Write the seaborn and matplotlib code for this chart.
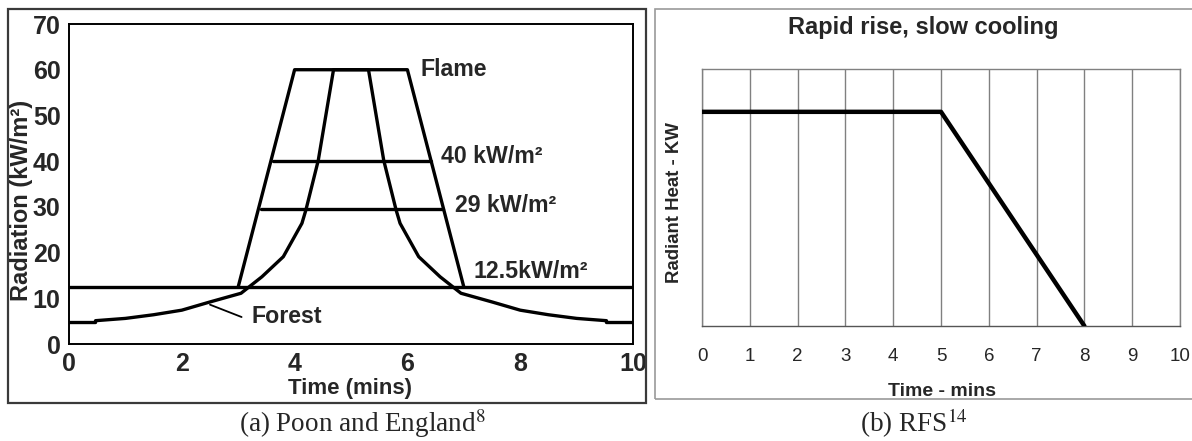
import matplotlib
matplotlib.use("Agg")
import matplotlib.pyplot as plt
import seaborn as sns
import pandas as pd
from matplotlib.patches import Rectangle

# ---------------- data ----------------
# (a) Poon and England
flame_x = [3.0, 4.0, 6.0, 7.0]
flame_y = [12.5, 60.0, 60.0, 12.5]
forest_x = [0.0, 0.47, 0.47, 1.0, 1.5, 2.0, 2.5, 3.05, 3.42, 3.8, 4.13, 4.2, 4.42, 4.57, 4.69,
            5.31, 5.43, 5.58, 5.8, 5.87, 6.2, 6.58, 6.95, 7.5, 8.0, 8.5, 9.0, 9.53, 9.53, 10.0]
forest_y = [4.7, 4.7, 5.1, 5.6, 6.4, 7.4, 9.2, 11.1, 14.7, 19.1, 26.4, 29.3, 40.2, 51.2, 60.0,
            60.0, 51.2, 40.2, 29.3, 26.4, 19.1, 14.7, 11.1, 9.2, 7.4, 6.4, 5.6, 5.1, 4.7, 4.7]
threshold_levels = [12.5, 29.5, 40.0]
threshold_x0 = [0.0, 3.41, 3.62]
threshold_x1 = [10.0, 6.64, 6.42]
threshold_labels = ["12.5kW/m²", "29 kW/m²", "40 kW/m²"]
label_pos_x = [7.18, 6.84, 6.6]
label_pos_y = [15.9, 30.4, 41.0]
left_xticks = [0, 2, 4, 6, 8, 10]
left_yticks = [0, 10, 20, 30, 40, 50, 60, 70]

# (b) RFS
rfs_x = [0, 5, 8]
rfs_y = [50, 50, 0]
right_xticks = list(range(0, 11))

# ---------------- figure ----------------
sns.set_theme(style="white")
plt.rcParams["font.family"] = ["Liberation Sans", "DejaVu Sans"]
plt.rcParams["mathtext.fontset"] = "stix"

W, H = 1192, 441
fig = plt.figure(figsize=(W / 100, H / 100), dpi=100)
fig.patch.set_facecolor("white")

# outer frames
fig.add_artist(Rectangle((8 / W, 1 - 403 / H), (646 - 8) / W, (403 - 9) / H,
                         transform=fig.transFigure, fill=False, edgecolor="#3a3a3a", lw=1.6))
fig.add_artist(Rectangle((655 / W, 1 - 399 / H), (1200 - 655) / W, (399 - 9) / H,
                         transform=fig.transFigure, fill=False, edgecolor="#9a9a9a", lw=1.2))

# ---- left panel ----
axL = fig.add_axes([69 / W, 1 - 344 / H, (633 - 69) / W, (344 - 24) / H])
lw = 2.4
df_flame = pd.DataFrame({"x": flame_x, "y": flame_y})
df_forest = pd.DataFrame({"x": forest_x, "y": forest_y})
sns.lineplot(data=df_flame, x="x", y="y", ax=axL, color="black", lw=lw, sort=False, estimator=None)
sns.lineplot(data=df_forest, x="x", y="y", ax=axL, color="black", lw=lw, sort=False, estimator=None)
for lev, a, b in zip(threshold_levels, threshold_x0, threshold_x1):
    sns.lineplot(x=[a, b], y=[lev, lev], ax=axL, color="black", lw=lw, sort=False, estimator=None)

axL.set_xlim(0, 10)
axL.set_ylim(0, 70)
axL.set_xticks(left_xticks)
axL.set_yticks(left_yticks)
axL.tick_params(axis="both", direction="out", length=5, width=1.3, color="black",
                labelsize=18, pad=1)
for lab in axL.get_xticklabels() + axL.get_yticklabels():
    lab.set_fontweight("bold")
for sp in axL.spines.values():
    sp.set_visible(True)
    sp.set_color("black")
    sp.set_linewidth(1.4)
axL.set_xlabel("Time (mins)", fontsize=16, fontweight="bold")
axL.set_ylabel("Radiation (kW/m²)", fontsize=17, fontweight="bold")
axL.xaxis.set_label_coords(0.498, -0.105)
axL.yaxis.set_label_coords(-0.063, 0.45)

ann_fs = 16.7
axL.text(6.23, 60, "Flame", fontsize=ann_fs, fontweight="bold", ha="left", va="center")
for t, px, py in zip(threshold_labels, label_pos_x, label_pos_y):
    axL.text(px, py, t, fontsize=ann_fs, fontweight="bold", ha="left", va="center")
axL.text(3.24, 6.1, "Forest", fontsize=ann_fs, fontweight="bold", ha="left", va="center")
axL.plot([2.5, 3.06], [8.6, 5.9], color="black", lw=1.3)

# ---- right panel ----
axR = fig.add_axes([702 / W, 1 - 326 / H, (1180 - 702) / W, (326 - 69) / H])
df_rfs = pd.DataFrame({"x": rfs_x, "y": rfs_y})
sns.lineplot(data=df_rfs, x="x", y="y", ax=axR, color="black", lw=3.2, sort=False,
             estimator=None, zorder=5)
axR.set_xlim(0, 10)
axR.set_ylim(0, 60)
axR.set_xticks(right_xticks)
axR.set_yticks([])
axR.grid(axis="x", color="#808080", lw=1.0)
axR.set_axisbelow(True)
for sp in axR.spines.values():
    sp.set_visible(True)
    sp.set_color("#808080")
    sp.set_linewidth(1.0)
axR.spines["bottom"].set_color("#555555")
axR.tick_params(axis="x", direction="out", length=7, width=1.0, color="#555555",
                labelsize=13.5, pad=9)
axR.set_xlabel("Time - mins", fontsize=14, fontweight="bold")
axR.set_ylabel("Radiant Heat - KW", fontsize=13.4, fontweight="bold")
axR.xaxis.set_label_coords(0.502, -0.222)
axR.yaxis.set_label_coords(-0.040, 0.48)
axR.set_title("Rapid rise, slow cooling", fontsize=17, fontweight="bold", x=0.462, y=1.105)

# captions
fig.text(362 / W, 1 - 432 / H, "(a) Poon and England$^{8}$", fontsize=19.5,
         family=["Liberation Serif", "DejaVu Serif"], ha="center", va="baseline")
fig.text(914 / W, 1 - 432 / H, "(b) RFS$^{14}$", fontsize=19.5,
         family=["Liberation Serif", "DejaVu Serif"], ha="center", va="baseline")

fig.savefig("out.png", dpi=100, facecolor="white")
